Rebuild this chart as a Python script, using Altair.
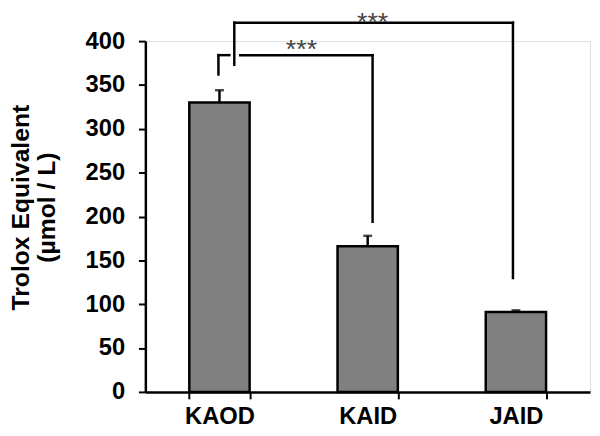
import altair as alt
import pandas as pd

# ---- data ----
groups = ["KAOD", "KAID", "JAID"]
means = [330, 166, 91]
errors = [14, 12, 2]

# significance bracket segments (x in category units 0..3, y in µmol/L)
seg_x1 = [0.60, 0.60, 2.48, 0.64, 1.533, 0.493, 0.493]
seg_x2 = [2.48, 0.60, 2.48, 1.533, 1.533, 0.567, 0.493]
seg_y1 = [421, 421, 421, 384, 384, 384, 384]
seg_y2 = [421, 373, 130, 384, 194, 384, 362]

star_x = [1.053, 1.533]
star_y = [381, 411]
star_text = ["***", "***"]

bars_df = pd.DataFrame({"group": groups, "mean": means, "err": errors})
bars_df["top"] = bars_df["mean"] + bars_df["err"]
seg_df = pd.DataFrame({"x1": seg_x1, "x2": seg_x2, "y1": seg_y1, "y2": seg_y2})
star_df = pd.DataFrame({"x": star_x, "y": star_y, "t": star_text})

FONT = "Liberation Sans"
W, H = 450, 355

yscale = alt.Scale(domain=[0, 400], nice=False, zero=True)
xband = alt.Scale(paddingInner=0.593, paddingOuter=0.2965)

x_enc = alt.X(
    "group:N", sort=groups, scale=xband,
    axis=alt.Axis(
        title=None, labelAngle=0, tickBand="extent", labelFont=FONT,
        labelFontSize=24, labelFontWeight="bold", labelColor="black",
        labelPadding=6, tickSize=7, tickWidth=2, tickColor="black",
        domainColor="black", domainWidth=2.5, grid=False,
    ),
)
y_enc = alt.Y(
    "mean:Q", scale=yscale,
    axis=alt.Axis(
        values=list(range(0, 401, 50)),
        title=["Trolox Equivalent", "(µmol / L)"],
        titleFont=FONT, titleFontSize=25, titleFontWeight="bold",
        titleColor="black", titleLineHeight=26, titleBaseline="alphabetic",
        titleAngle=-90, titleAlign="center", titleX=-118, titleY=168,
        labelFont=FONT, labelFontSize=24, labelFontWeight="bold",
        labelColor="black", labelPadding=14, tickSize=7, tickWidth=2,
        tickColor="black", domainColor="black", domainWidth=2.5, grid=False,
    ),
)

base_x = alt.X("group:N", sort=groups, scale=xband, axis=None)

bars = alt.Chart(bars_df).mark_bar(
    color="#808080", stroke="black", strokeWidth=2.5
).encode(x=x_enc, y=y_enc)

err = alt.Chart(bars_df).mark_rule(color="black", strokeWidth=2.5).encode(
    x=base_x,
    y=alt.Y("mean:Q", scale=yscale),
    y2="top:Q",
)
cap = alt.Chart(bars_df).mark_tick(
    color="black", thickness=2.5, size=9
).encode(
    x=base_x,
    y=alt.Y("top:Q", scale=yscale),
)

xq = alt.Scale(domain=[0, 3], nice=False, zero=False)
brackets = alt.Chart(seg_df).mark_rule(
    color="black", strokeWidth=2.5, strokeCap="square"
).encode(
    x=alt.X("x1:Q", scale=xq, axis=None),
    x2="x2:Q",
    y=alt.Y("y1:Q", scale=yscale),
    y2="y2:Q",
)
stars = alt.Chart(star_df).mark_text(
    font=FONT, fontSize=27, color="#444444", baseline="alphabetic", align="center"
).encode(
    x=alt.X("x:Q", scale=xq, axis=None),
    y=alt.Y("y:Q", scale=yscale),
    text="t:N",
)

chart = (
    alt.layer(bars, err, cap, brackets, stars)
    .resolve_scale(x="independent")
    .properties(
        width=W, height=H,
        padding={"left": 139, "top": 31, "right": 2, "bottom": 34},
        autosize=alt.AutoSizeParams(type="none"),
    )
    .configure_view(strokeWidth=0, stroke="transparent")
    .configure(background="white")
)

chart.save("out.html", embed_options={"renderer": "svg", "actions": False})
